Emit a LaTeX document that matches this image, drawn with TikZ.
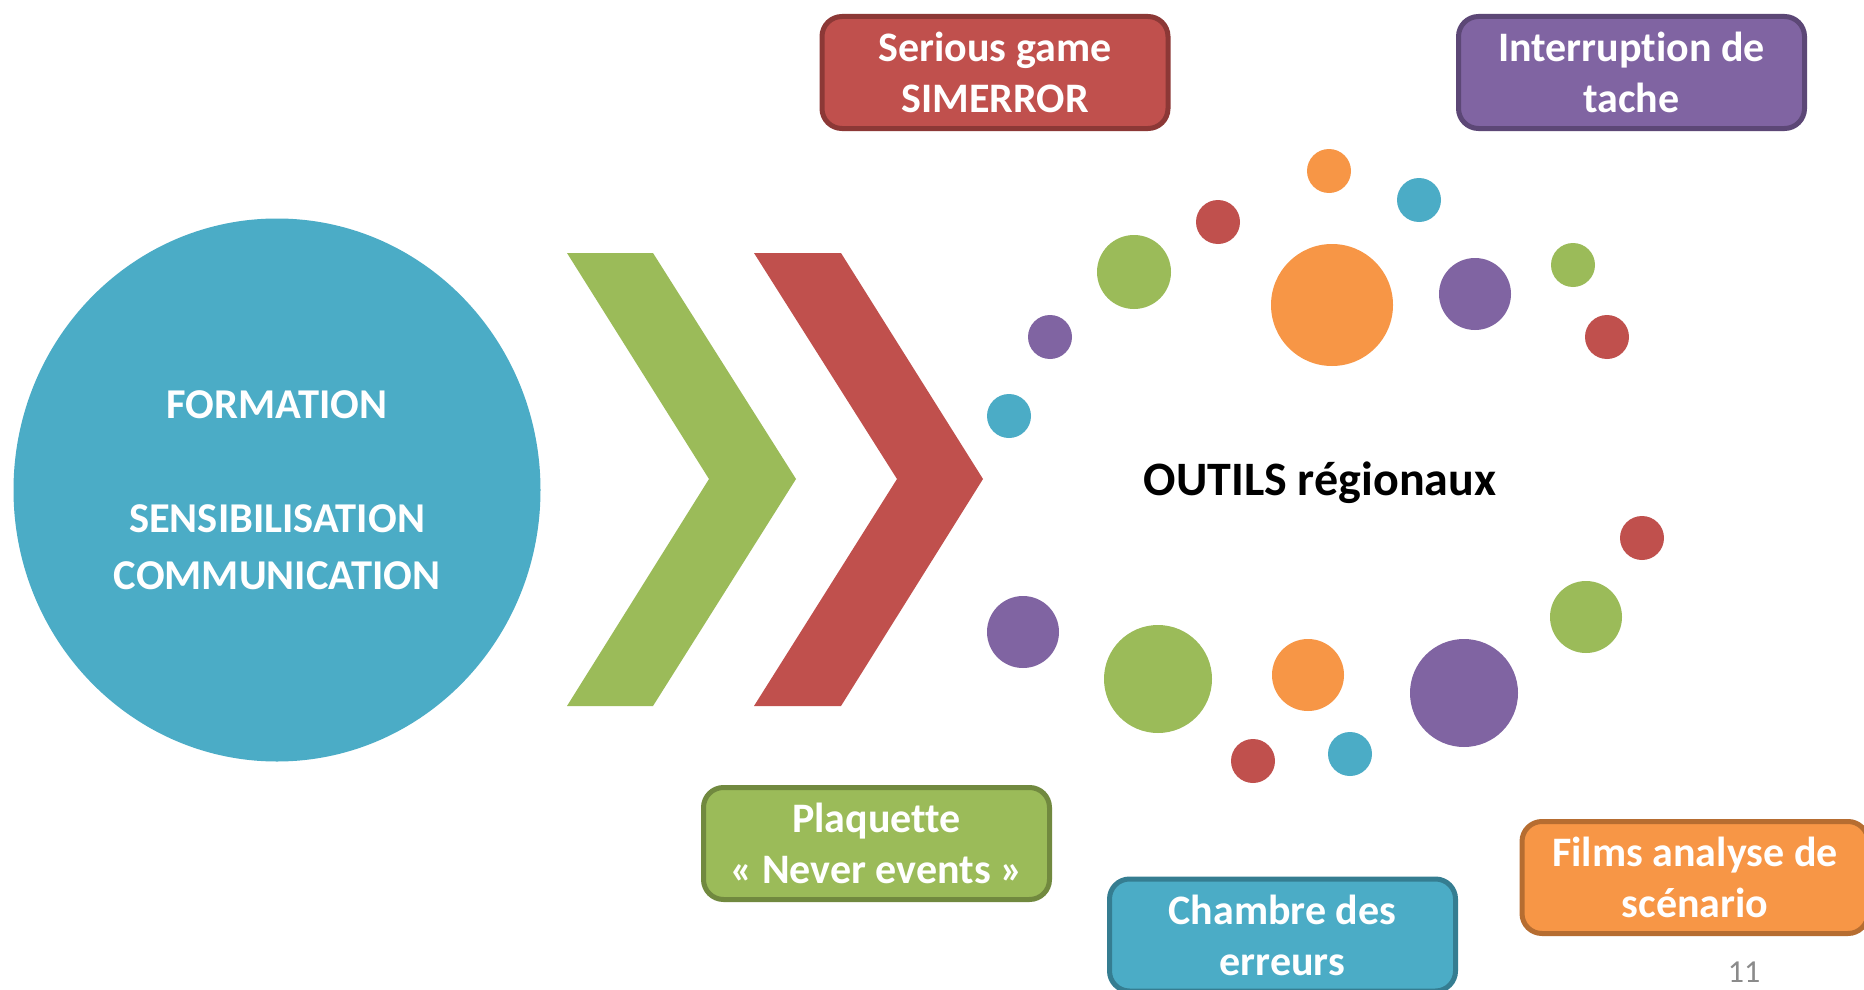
\documentclass[tikz,border=0pt]{standalone}
\usepackage{fontspec}
\setmainfont{Carlito}[Ligatures = NoCommon]
\usetikzlibrary{shapes.geometric}

\definecolor{bleu}{HTML}{4BACC6}
\definecolor{vert}{HTML}{9BBB59}
\definecolor{rouge}{HTML}{C0504D}
\definecolor{violet}{HTML}{8064A2}
\definecolor{orange}{HTML}{F79646}
\definecolor{bleufonce}{HTML}{357D91}
\definecolor{vertfonce}{HTML}{71893F}
\definecolor{rougefonce}{HTML}{8C3836}
\definecolor{violetfonce}{HTML}{5C4776}
\definecolor{orangefonce}{HTML}{B66D31}
\definecolor{numero}{HTML}{8B8B8B}

\tikzset{
	outil/.style = {draw = #1fonce, fill = #1, rounded corners = 20pt, line width = 5pt,
		minimum width = 346pt, minimum height = 112pt, inner sep = 0pt, align = center,
		text = white, font = \bfseries\fontsize{42}{51}\selectfont},
}

\begin{document}
\begin{tikzpicture}[x = 1pt, y = -1pt]
			\clip (0, 0) rectangle (1864, 990);
			\fill[white] (0, 0) rectangle (1864, 990);
			% grand disque de gauche
			\node[ellipse, fill = bleu, minimum width = 527pt, minimum height = 543pt, inner sep = 0pt,
				align = center, text = white, font = \bfseries\fontsize{42.5}{57}\selectfont]
				(formation) at (277, 490) {FORMATION\\[57pt]SENSIBILISATION\\COMMUNICATION};
			% chevrons
			\fill[vert] (567, 253) -- (653, 253) -- (796, 479) -- (653, 706) -- (567, 706) -- (709, 479) -- cycle;
			\fill[rouge] (754, 253) -- (841, 253) -- (983, 479) -- (841, 706) -- (754, 706) -- (897, 479) -- cycle;
			% pastilles autour du titre
			\foreach \x/\y/\r/\c in {1009/416/22/bleu, 1050/337/22/violet, 1134/272/37/vert,
					1218/222/22/rouge, 1329/171/22/orange, 1419/200/22/bleu, 1332/305/61/orange,
					1475/294/36/violet, 1573/265/22/vert, 1607/337/22/rouge,
					1642/538/22/rouge, 1586/617/36/vert, 1464/693/54/violet, 1308/675/36/orange,
					1350/754/22/bleu, 1253/761/22/rouge, 1158/679/54/vert, 1023/632/36/violet}
				\fill[\c] (\x, \y) circle (\r pt);
			\node[font = \bfseries\fontsize{48}{57}\selectfont] (outils) at (1320, 483) {OUTILS régionaux};
			% cadres des outils
			\node[outil = rouge] (serious) at (995, 72.5) {Serious game\\SIMERROR};
			\node[outil = violet] (interruption) at (1631.5, 72.5) {Interruption de\\tache};
			\node[outil = vert] (plaquette) at (876.5, 843.5) {Plaquette\\« Never events »};
			\node[outil = bleu] (chambre) at (1282.5, 935) {Chambre des\\erreurs};
			\node[outil = orange] (films) at (1695, 877.5) {Films analyse de\\scénario};
			\node[text = numero, font = \fontsize{32}{38}\selectfont] (page) at (1744, 972) {11};
\end{tikzpicture}
\end{document}
